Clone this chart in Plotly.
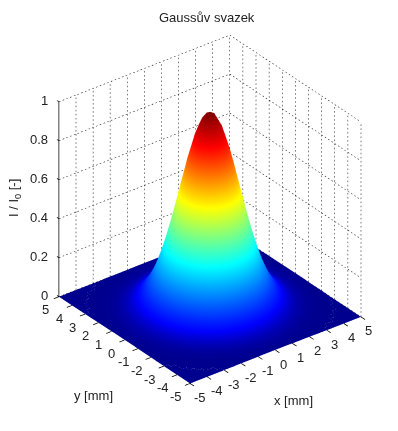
# Gaussian beam surface, MATLAB default view look
import plotly.graph_objects as go

AXIS_VALUES = [
    -5, -4.75, -4.5, -4.25, -4, -3.75, -3.5, -3.25, -3, -2.75, -2.5, -2.25, -2, -1.75, -1.5, -1.25, -1, -0.75, -0.5, -0.25,
    0, 0.25, 0.5, 0.75, 1, 1.25, 1.5, 1.75, 2, 2.25, 2.5, 2.75, 3, 3.25, 3.5, 3.75, 4, 4.25, 4.5, 4.75, 5,
]
XY_TICKS = [-5, -4, -3, -2, -1, 0, 1, 2, 3, 4, 5]
Z_TICKS = [0, 0.2, 0.4, 0.6, 0.8, 1]
Z_LABELS = ["0", "0.2", "0.4", "0.6", "0.8", "1"]

QUADRANT = [
    [1.000, .985, .939, .869, .779, .677, .570, .465, .368, .282, .210, .151, .105, .071, .047, .030, .018, .011, .006, .004, .002],
    [.985, .969, .925, .855, .767, .666, .561, .458, .362, .278, .206, .149, .104, .070, .046, .029, .018, .011, .006, .004, .002],
    [.939, .925, .882, .816, .732, .636, .535, .437, .346, .265, .197, .142, .099, .067, .044, .028, .017, .010, .006, .003, .002],
    [.869, .855, .816, .755, .677, .588, .495, .404, .320, .245, .182, .131, .092, .062, .041, .026, .016, .009, .005, .003, .002],
    [.779, .767, .732, .677, .607, .527, .444, .362, .287, .220, .163, .118, .082, .056, .036, .023, .014, .008, .005, .003, .001],
    [.677, .666, .636, .588, .527, .458, .386, .315, .249, .191, .142, .102, .071, .048, .032, .020, .012, .007, .004, .002, .001],
    [.570, .561, .535, .495, .444, .386, .325, .265, .210, .161, .119, .086, .060, .041, .027, .017, .010, .006, .004, .002, .001],
    [.465, .458, .437, .404, .362, .315, .265, .216, .171, .131, .097, .070, .049, .033, .022, .014, .009, .005, .003, .002, .001],
    [.368, .362, .346, .320, .287, .249, .210, .171, .135, .104, .077, .056, .039, .026, .017, .011, .007, .004, .002, .001, .001],
    [.282, .278, .265, .245, .220, .191, .161, .131, .104, .080, .059, .043, .030, .020, .013, .008, .005, .003, .002, .001, .001],
    [.210, .206, .197, .182, .163, .142, .119, .097, .077, .059, .044, .032, .022, .015, .010, .006, .004, .002, .001, .001, .000],
    [.151, .149, .142, .131, .118, .102, .086, .070, .056, .043, .032, .023, .016, .011, .007, .004, .003, .002, .001, .001, .000],
    [.105, .104, .099, .092, .082, .071, .060, .049, .039, .030, .022, .016, .011, .008, .005, .003, .002, .001, .001, .000, .000],
    [.071, .070, .067, .062, .056, .048, .041, .033, .026, .020, .015, .011, .008, .005, .003, .002, .001, .001, .000, .000, .000],
    [.047, .046, .044, .041, .036, .032, .027, .022, .017, .013, .010, .007, .005, .003, .002, .001, .001, .001, .000, .000, .000],
    [.030, .029, .028, .026, .023, .020, .017, .014, .011, .008, .006, .004, .003, .002, .001, .001, .001, .000, .000, .000, .000],
    [.018, .018, .017, .016, .014, .012, .010, .009, .007, .005, .004, .003, .002, .001, .001, .001, .000, .000, .000, .000, .000],
    [.011, .011, .010, .009, .008, .007, .006, .005, .004, .003, .002, .002, .001, .001, .001, .000, .000, .000, .000, .000, .000],
    [.006, .006, .006, .005, .005, .004, .004, .003, .002, .002, .001, .001, .001, .000, .000, .000, .000, .000, .000, .000, .000],
    [.004, .004, .003, .003, .003, .002, .002, .002, .001, .001, .001, .001, .000, .000, .000, .000, .000, .000, .000, .000, .000],
    [.002, .002, .002, .002, .001, .001, .001, .001, .001, .001, .000, .000, .000, .000, .000, .000, .000, .000, .000, .000, .000],
]

# jet, with the stops nudged down a little to land where the reference has them
JET = [
    [0, "rgb(0,0,143)"],
    [0.06, "rgb(0,0,255)"],
    [0.32, "rgb(0,255,255)"],
    [0.59, "rgb(255,255,0)"],
    [0.86, "rgb(255,0,0)"],
    [1, "rgb(128,0,0)"],
]

FONT = dict(family="Liberation Sans, Arial", size=13, color="#222222")

# the page keeps its 8 px body margin, so the figure is a bit smaller than the window
PAGE_MARGIN = 8
FIG_W = 390
FIG_H = 423
TICK_LEN = 0.3


def mirror(row):
    return row[:0:-1] + row


def add_dots(xs, ys, zs, p0, p1, count):
    # plotly's dash="dot" is far too coarse in 3D, so cut the line into short bits
    for k in range(count):
        f0, f1 = k / count, (k + 0.4) / count
        for out, a, b in ((xs, p0[0], p1[0]), (ys, p0[1], p1[1]), (zs, p0[2], p1[2])):
            out += [a + (b - a) * f0, a + (b - a) * f1, None]


rows = [mirror(r) for r in QUADRANT]
z_grid = rows[:0:-1] + rows

fig = go.Figure()
fig.add_trace(go.Surface(
    x=AXIS_VALUES, y=AXIS_VALUES, z=z_grid,
    colorscale=JET, cmin=0, cmax=1, showscale=False,
    lighting=dict(ambient=1, diffuse=0, specular=0, fresnel=0, roughness=1),
    hoverinfo="skip",
))

# dotted grid on the two back walls
gx, gy, gz = [], [], []
for t in XY_TICKS:
    add_dots(gx, gy, gz, (t, 5, 0), (t, 5, 1), 48)
    add_dots(gx, gy, gz, (5, t, 0), (5, t, 1), 48)
for t in Z_TICKS:
    add_dots(gx, gy, gz, (-5, 5, t), (5, 5, t), 46)
    add_dots(gx, gy, gz, (5, 5, t), (5, -5, t), 40)
fig.add_trace(go.Scatter3d(
    x=gx, y=gy, z=gz, mode="lines",
    line=dict(color="black", width=1), hoverinfo="skip", showlegend=False,
))

# solid axis lines and tick marks
ax, ay, az = [-5, -5, None], [5, 5, None], [0, 1, None]
for t in XY_TICKS:
    ax += [-5 - TICK_LEN, -5, None, t, t, None]
    ay += [t, t, None, -5 - TICK_LEN, -5, None]
    az += [0, 0, None, 0, 0, None]
for t in Z_TICKS:
    ax += [-5, -5, None]
    ay += [5, 5.15, None]
    az += [t, t, None]
fig.add_trace(go.Scatter3d(
    x=ax, y=ay, z=az, mode="lines",
    line=dict(color="black", width=1.5), hoverinfo="skip", showlegend=False,
))

labels = []
for t in XY_TICKS:
    labels.append(dict(x=t, y=-5, z=0, text=str(t), xshift=10 if t < 0 else 8, yshift=-14))
    labels.append(dict(x=-5, y=t, z=0, text=str(t), xshift=-14 if t < 0 else -13, yshift=-13))
for t, s in zip(Z_TICKS, Z_LABELS):
    labels.append(dict(x=-5, y=5, z=t, text=s, xshift=-9, yshift=1, xanchor="right"))
for a in labels:
    a.update(showarrow=False, font=FONT)

fig.update_layout(
    width=FIG_W, height=FIG_H, autosize=False,
    margin=dict(l=0, r=0, t=0, b=0),
    paper_bgcolor="white",
    showlegend=False,
    scene=dict(
        xaxis=dict(visible=False, range=[-5.4, 5.4]),
        yaxis=dict(visible=False, range=[-5.4, 5.4]),
        zaxis=dict(visible=False, range=[0, 1]),
        aspectmode="manual",
        aspectratio=dict(x=1.10, y=1.10, z=1.07),
        camera=dict(
            projection=dict(type="orthographic"),
            eye=dict(x=-1.054, y=-1.319, z=0.939),
            center=dict(x=-0.026, y=0.020, z=-0.056),
            up=dict(x=0, y=0, z=1),
        ),
        annotations=labels,
    ),
)

# titles sit at fixed spots in the window (pixels from the top left)
for text, px, py, angle in [
    ("Gaussův svazek", 207, 17, 0),
    ("x [mm]", 293, 400, 0),
    ("y [mm]", 93, 395, 0),
    ("I / I<sub>0</sub> [-]", 14, 198, -90),
]:
    fig.add_annotation(
        text=text, x=(px - PAGE_MARGIN) / FIG_W, y=1 - (py - PAGE_MARGIN) / FIG_H,
        xref="paper", yref="paper",
        xanchor="center", yanchor="middle", showarrow=False, textangle=angle, font=FONT,
    )

fig.write_html("out.html")
